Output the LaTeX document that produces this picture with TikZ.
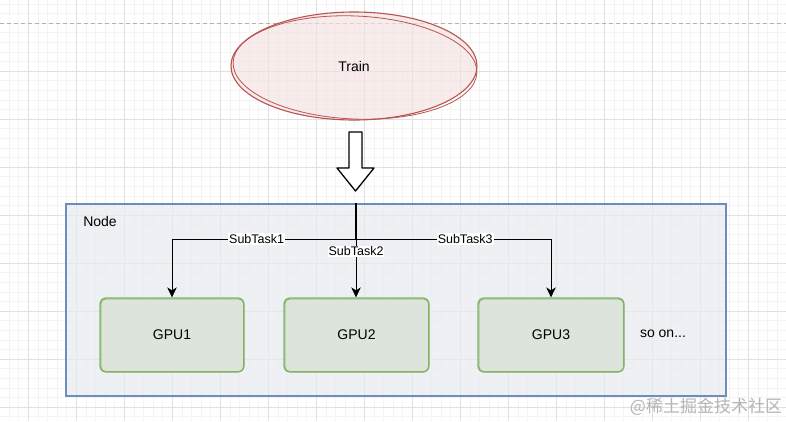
\documentclass[tikz,border=0pt]{standalone}
\usepackage{fontspec}
\setmainfont{Liberation Sans}
\newfontfamily\cjk{Noto Sans CJK SC}
\usetikzlibrary{arrows.meta,shapes.geometric,calc}
\definecolor{redline}{HTML}{B85450}
\definecolor{redfill}{HTML}{F4E2E1}
\definecolor{blueline}{HTML}{6C8EBF}
\definecolor{bluefill}{HTML}{E7EBF0}
\definecolor{greenline}{HTML}{82B366}
\definecolor{greenfill}{HTML}{D9E2D7}
\definecolor{gridmajor}{HTML}{E0E0E0}
\definecolor{gridminor}{HTML}{F4F4F4}
\definecolor{wmgray}{HTML}{B4B4B4}
\tikzset{
  bigtext/.style={font=\fontsize{14}{16}\selectfont},
  lbl/.style={font=\fontsize{12.5}{14}\selectfont, fill=white, inner sep=1pt},
  trainshape/.style={ellipse, draw=redline, line width=1.1pt, fill=redfill, fill opacity=0.65, text opacity=1, bigtext},
  container/.style={draw=blueline, line width=1.6pt, fill=bluefill, fill opacity=0.7, anchor=north west},
  gpu/.style={draw=greenline, line width=1.2pt, fill=greenfill, fill opacity=0.8, text opacity=1, rounded corners=6pt, bigtext},
  conn/.style={line width=1pt, -{Stealth[length=10pt,width=9.5pt,inset=3pt]}},
  sketch/.style={line width=0.8pt}
}
\begin{document}
\begin{tikzpicture}[x=1pt,y=-1pt]
\useasboundingbox (0,0) rectangle (786,421);
\fill[white] (0,0) rectangle (786,421);
% grid
\foreach \k in {0,...,82} {\draw[gridminor, line width=0.6pt] ({-0.5+9.6*\k},0) -- ++(0,421);}
\foreach \k in {0,...,44} {\draw[gridminor, line width=0.6pt] (0,{3.8+9.6*\k}) -- ++(786,0);}
\foreach \k in {0,...,16} {\draw[gridmajor, line width=0.8pt] ({28.3+48*\k},0) -- ++(0,421);}
\foreach \k in {1,...,8} {\draw[gridmajor, line width=0.8pt] (0,{23+48*\k}) -- ++(786,0);}
\draw[gray!60, line width=0.8pt, dash pattern=on 4pt off 3pt] (0,23) -- (786,23);

% Train ellipse
\node[trainshape, minimum width=246pt, minimum height=108pt] (train) at (354,66) {Train};
\draw[redline, sketch] (355,67.5) ellipse [x radius=122, y radius=51.5, rotate=-2.5];

% Hollow block arrow
\coordinate (bat) at (355.5,132);
\draw[line width=1.3pt, fill=white, line join=round]
  ($(bat)+(-6.5,0)$) -- ($(bat)+(6.5,0)$) -- ($(bat)+(6.5,36)$) -- ($(bat)+(18.5,36)$)
  -- ($(bat)+(0,59)$) -- ($(bat)+(-18.5,36)$) -- ($(bat)+(-6.5,36)$) -- cycle;

% Container
\node[container, minimum width=660pt, minimum height=192pt] (nodebox) at (65,203) {};
\node[bigtext] (nodelbl) at (100,221) {Node};

% GPUs
\node[gpu, minimum width=144pt, minimum height=74pt] (gpu1) at (172,335) {GPU1};
\node[gpu, minimum width=145pt, minimum height=74pt] (gpu2) at (356.5,335) {GPU2};
\node[gpu, minimum width=146pt, minimum height=74pt] (gpu3) at (551,335) {GPU3};
\foreach \g in {gpu1,gpu2,gpu3} {
  \draw[greenline, sketch, rounded corners=5pt] ($(\g.south west)+(1.5,-1)$) rectangle ($(\g.north east)+(-1,1.5)$);
}
\node[bigtext] (soon) at (663,334) {so on...};

% connectors
\coordinate (j) at (356,239);
\draw[line width=2.6pt] (j |- nodebox.north) -- (j);
\draw[conn] (j) -| node[lbl, pos=0.27] (st1) {SubTask1} (gpu1.north);
\draw[conn] (j) -- node[lbl, pos=0.21] (st2) {SubTask2} (j |- gpu2.north);
\draw[conn] (j) -| node[lbl, pos=0.28] (st3) {SubTask3} (gpu3.north);

% watermark
\node[wmgray, font=\cjk\fontsize{17}{19}\selectfont] (wm) at (706,407) {@稀土掘金技术社区};
\end{tikzpicture}
\end{document}
